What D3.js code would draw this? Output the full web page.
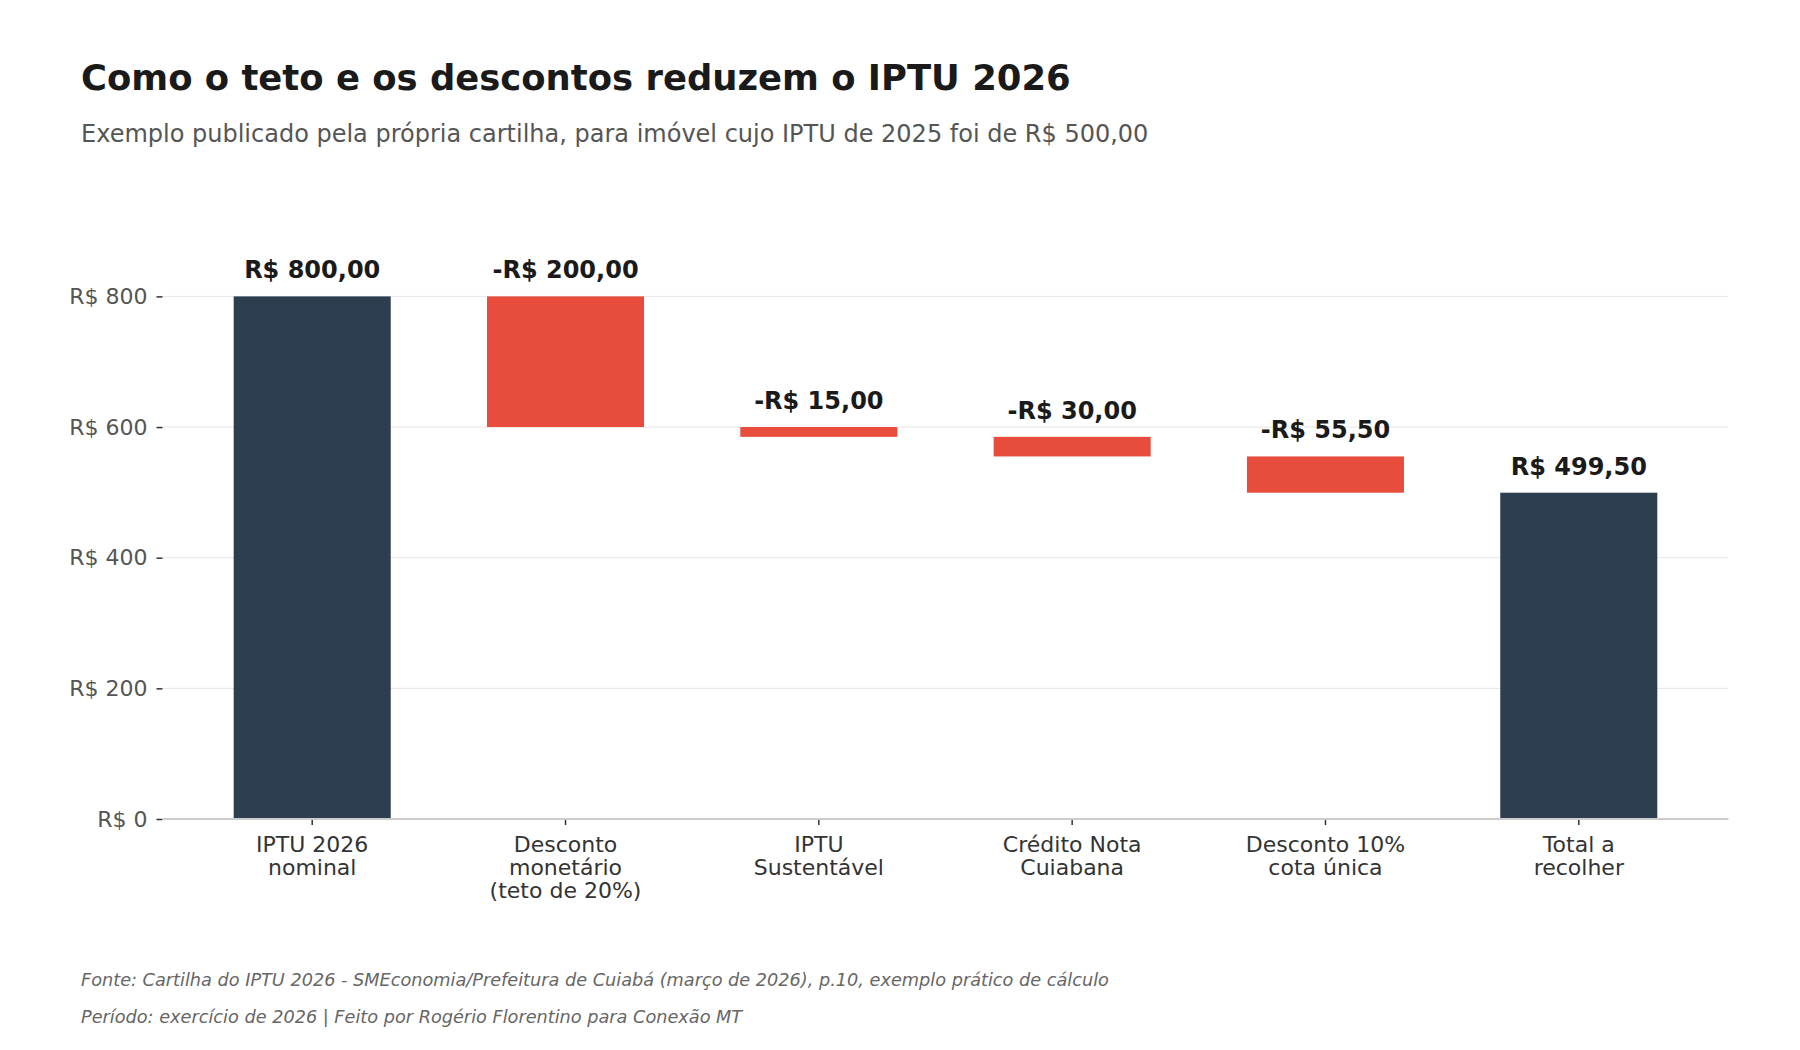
<!DOCTYPE html>
<html lang="pt-BR">
<head>
    <meta charset="UTF-8">
    <title>IPTU 2026 - cascata</title>
    <style>
        body { margin: 0; background: #fff; }
        svg { display: block; font-family: "DejaVu Sans", sans-serif; }
        .title { font-size: 35.4px; font-weight: bold; fill: #1a1a1a; }
        .subtitle { font-size: 24px; fill: #555; }
        .grid line { stroke: #e6e6e6; stroke-width: 1px; }
        .y-axis text { font-size: 22px; fill: #555; }
        .x-axis text { font-size: 22px; fill: #333; }
        .tick line { stroke: #333; stroke-width: 1.5px; }
        .value { font-size: 24px; font-weight: bold; fill: #1a1a1a; text-anchor: middle; }
        .note { font-size: 17.7px; font-style: italic; fill: #666; }
    </style>
</head>
<body>
    <script src="https://d3js.org/d3.v7.min.js"></script>
    <script>
        // dados do exemplo da cartilha
        const categories = ["IPTU 2026\nnominal", "Desconto\nmonetário\n(teto de 20%)", "IPTU\nSustentável",
            "Crédito Nota\nCuiabana", "Desconto 10%\ncota única", "Total a\nrecolher"];
        const steps = [800, -200, -15, -30, -55.5, 499.5];
        const kinds = ["total", "delta", "delta", "delta", "delta", "total"];
        const yTicks = [0, 200, 400, 600, 800];

        const width = 1800;
        const height = 1050;
        const plot = { left: 162.5, right: 1728.5, top: 218, bottom: 819 };

        const colors = { total: "#2c3e50", delta: "#e74c3c" };

        // monta início/fim de cada degrau
        let running = 0;
        const bars = steps.map((v, i) => {
            let from, to;
            if (kinds[i] === "total") {
                from = 0; to = v; running = v;
            } else {
                from = running; to = running + v; running = to;
            }
            return { cat: categories[i], value: v, kind: kinds[i], lo: Math.min(from, to), hi: Math.max(from, to) };
        });

        const brl = v => {
            const s = "R$ " + d3.format(",.2f")(Math.abs(v)).replace(/,/g, "#").replace(".", ",").replace(/#/g, ".");
            return v < 0 ? "-" + s : s;
        };

        const svg = d3.select("body").append("svg")
            .attr("width", width)
            .attr("height", height);

        const x = d3.scaleBand()
            .domain(categories)
            .range([plot.left, plot.right])
            .paddingInner(0.38)
            .paddingOuter(0.281);

        const y = d3.scaleLinear()
            .domain([0, 920])
            .range([plot.bottom, plot.top]);

        // grade horizontal
        svg.append("g")
            .attr("class", "grid")
            .selectAll("line")
            .data(yTicks.filter(d => d > 0))
            .enter().append("line")
            .attr("x1", plot.left)
            .attr("x2", plot.right)
            .attr("y1", d => y(d))
            .attr("y2", d => y(d));

        // barras
        svg.append("g")
            .selectAll("rect")
            .data(bars)
            .enter().append("rect")
            .attr("x", d => x(d.cat))
            .attr("width", x.bandwidth())
            .attr("y", d => y(d.hi))
            .attr("height", d => y(d.lo) - y(d.hi))
            .attr("fill", d => colors[d.kind]);

        // rótulos de valor
        svg.append("g")
            .selectAll("text")
            .data(bars)
            .enter().append("text")
            .attr("class", "value")
            .attr("x", d => x(d.cat) + x.bandwidth() / 2)
            .attr("y", d => y(d.hi) - 18)
            .text(d => brl(d.value));

        // eixo y
        const yAxis = svg.append("g")
            .attr("class", "y-axis")
            .attr("transform", `translate(${plot.left},0)`)
            .call(d3.axisLeft(y).tickValues(yTicks).tickSize(6).tickPadding(9).tickFormat(d => "R$ " + d));
        yAxis.attr("font-family", null).attr("font-size", null);
        yAxis.select(".domain").remove();

        // eixo x
        const xAxis = svg.append("g")
            .attr("class", "x-axis")
            .attr("transform", `translate(0,${plot.bottom})`)
            .call(d3.axisBottom(x).tickSize(6).tickFormat(""));
        xAxis.attr("font-family", null).attr("font-size", null);
        xAxis.select(".domain").remove();

        svg.append("line")
            .attr("x1", plot.left)
            .attr("x2", plot.right)
            .attr("y1", plot.bottom)
            .attr("y2", plot.bottom)
            .attr("stroke", "#cccccc")
            .attr("stroke-width", 2);

        xAxis.selectAll(".tick").each(function(d) {
            const t = d3.select(this).append("text")
                .attr("text-anchor", "middle")
                .attr("fill", "#333");
            d.split("\n").forEach((line, i) => {
                t.append("tspan")
                    .attr("x", 0)
                    .attr("y", 33 + i * 23)
                    .text(line);
            });
        });

        // títulos
        svg.append("text").attr("class", "title").attr("x", 81).attr("y", 90)
            .text("Como o teto e os descontos reduzem o IPTU 2026");
        svg.append("text").attr("class", "subtitle").attr("x", 81).attr("y", 142)
            .text("Exemplo publicado pela própria cartilha, para imóvel cujo IPTU de 2025 foi de R$ 500,00");

        // rodapé
        svg.append("text").attr("class", "note").attr("x", 81).attr("y", 986)
            .text("Fonte: Cartilha do IPTU 2026 - SMEconomia/Prefeitura de Cuiabá (março de 2026), p.10, exemplo prático de cálculo");
        svg.append("text").attr("class", "note").attr("x", 81).attr("y", 1023)
            .text("Período: exercício de 2026 | Feito por Rogério Florentino para Conexão MT");
    </script>
</body>
</html>
